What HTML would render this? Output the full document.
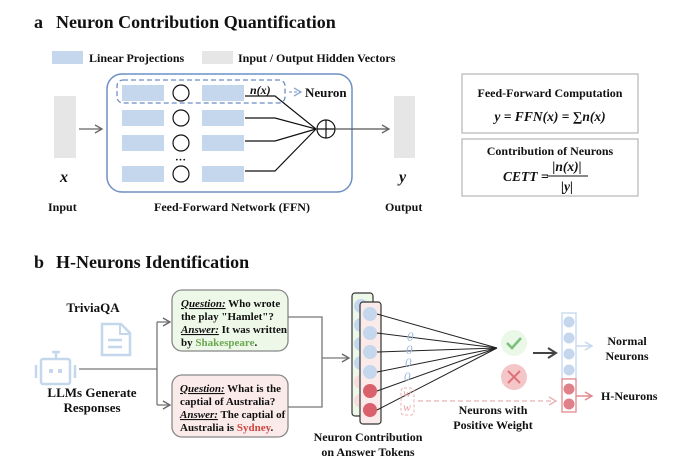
<!DOCTYPE html>
<html><head><meta charset="utf-8"><style>
html,body{margin:0;padding:0;background:#fff}
svg{display:block}
text{font-family:"Liberation Serif",serif;font-weight:bold;fill:#111}
.i{font-style:italic}
</style></head><body>
<svg width="684" height="465" viewBox="0 0 684 465" xmlns="http://www.w3.org/2000/svg">
<defs>
<marker id="ag" markerWidth="10" markerHeight="10" refX="8" refY="5" orient="auto" markerUnits="userSpaceOnUse"><path d="M1,1 L8,5 L1,9" fill="none" stroke="#666" stroke-width="1.3"/></marker>
<marker id="ak" markerWidth="12" markerHeight="12" refX="9" refY="6" orient="auto" markerUnits="userSpaceOnUse"><path d="M1,1 L9,6 L1,11" fill="none" stroke="#444" stroke-width="2"/></marker>
<marker id="ab" markerWidth="10" markerHeight="10" refX="8" refY="5" orient="auto" markerUnits="userSpaceOnUse"><path d="M1,1 L8,5 L1,9" fill="none" stroke="#8fa8d0" stroke-width="1.3"/></marker>
<marker id="al" markerWidth="10" markerHeight="10" refX="8" refY="5" orient="auto" markerUnits="userSpaceOnUse"><path d="M1,1 L8,5 L1,9" fill="none" stroke="#c8d8ec" stroke-width="1.5"/></marker>
<marker id="ar" markerWidth="10" markerHeight="10" refX="8" refY="5" orient="auto" markerUnits="userSpaceOnUse"><path d="M1,1 L8,5 L1,9" fill="none" stroke="#e08a8f" stroke-width="1.5"/></marker>
<marker id="ap" markerWidth="10" markerHeight="10" refX="8" refY="5" orient="auto" markerUnits="userSpaceOnUse"><path d="M1,1 L8,5 L1,9" fill="none" stroke="#eab0b4" stroke-width="1.3"/></marker>
</defs>

<!-- Part a -->
<text x="34" y="28" font-size="18">a</text>
<text x="56" y="28" font-size="18">Neuron Contribution Quantification</text>
<rect x="52" y="51" width="31" height="13" fill="#c4d7ec"/>
<text x="89" y="62" font-size="12">Linear Projections</text>
<rect x="202" y="51" width="31" height="13" fill="#e6e6e6"/>
<text x="238" y="62" font-size="12">Input / Output Hidden Vectors</text>

<rect x="54" y="96" width="22" height="62" fill="#e6e6e6"/>
<line x1="79" y1="129" x2="102" y2="129" stroke="#666" stroke-width="1.3" marker-end="url(#ag)"/>
<rect x="107" y="74" width="245" height="118" rx="15" fill="none" stroke="#6d8fc4" stroke-width="1.5"/>
<rect x="117" y="80" width="168" height="23" rx="6" fill="none" stroke="#6d8fc4" stroke-width="1.3" stroke-dasharray="5,3"/>
<line x1="289" y1="92" x2="301" y2="92" stroke="#8fa8d0" stroke-width="1.3" stroke-dasharray="3,2" marker-end="url(#ab)"/>
<text x="305" y="97" font-size="13">Neuron</text>
<g fill="#c4d7ec">
<rect x="122" y="85" width="42" height="16"/><rect x="202" y="85" width="42" height="16"/>
<rect x="122" y="110" width="42" height="16"/><rect x="202" y="110" width="42" height="16"/>
<rect x="122" y="135" width="42" height="16"/><rect x="202" y="135" width="42" height="16"/>
<rect x="122" y="166" width="42" height="16"/><rect x="202" y="166" width="42" height="16"/>
</g>
<g fill="#fff" stroke="#111" stroke-width="1.2">
<circle cx="181" cy="93" r="8"/><circle cx="181" cy="118" r="8"/><circle cx="181" cy="143" r="8"/><circle cx="181" cy="174" r="8"/>
</g>
<text x="175" y="163" font-size="11">···</text>
<text x="250" y="94" font-size="12" class="i">n(x)</text>
<g fill="none" stroke="#111" stroke-width="1.2">
<polyline points="245,96 275,96 316,129"/>
<polyline points="245,118 275,118 316,129"/>
<polyline points="245,141 275,141 316,129"/>
<polyline points="245,171 275,171 316,129"/>
<circle cx="326" cy="129" r="9" fill="#fff"/>
<line x1="317" y1="129" x2="335" y2="129"/><line x1="326" y1="120" x2="326" y2="138"/>
</g>
<line x1="335" y1="129" x2="389" y2="129" stroke="#555" stroke-width="1.2" marker-end="url(#ag)"/>
<rect x="394" y="96" width="21" height="62" fill="#e6e6e6"/>
<text x="60" y="182" font-size="16" class="i">x</text>
<text x="399" y="182" font-size="16" class="i">y</text>
<text x="48" y="211" font-size="12">Input</text>
<text x="232" y="211" font-size="12" text-anchor="middle">Feed-Forward Network (FFN)</text>
<text x="385" y="211" font-size="12">Output</text>

<rect x="462" y="74" width="176" height="59" fill="#fff" stroke="#bbb" stroke-width="1.3"/>
<text x="550" y="97" font-size="12" text-anchor="middle">Feed-Forward Computation</text>
<text x="550" y="121" font-size="13.5" text-anchor="middle" class="i">y = FFN(x) = ∑n(x)</text>
<rect x="462" y="139" width="176" height="57" fill="#fff" stroke="#bbb" stroke-width="1.3"/>
<text x="550" y="155" font-size="12" text-anchor="middle">Contribution of Neurons</text>
<text x="503" y="181" font-size="13.5" class="i">CETT =</text>
<text x="567" y="171" font-size="13.5" text-anchor="middle" class="i">|n(x)|</text>
<line x1="547" y1="176" x2="588" y2="176" stroke="#111" stroke-width="1"/>
<text x="567" y="191" font-size="13.5" text-anchor="middle" class="i">|y|</text>

<!-- Part b -->
<text x="34" y="268" font-size="18">b</text>
<text x="56" y="268" font-size="18">H-Neurons Identification</text>
<text x="93" y="312" font-size="13" text-anchor="middle">TriviaQA</text>
<path d="M102,324 L121,324 L130,333 L130,355 L102,355 Z" fill="none" stroke="#c4d7ec" stroke-width="2.5"/>
<path d="M120,324 L120,334 L130,334" fill="none" stroke="#c4d7ec" stroke-width="2"/>
<line x1="108" y1="340" x2="122" y2="340" stroke="#c4d7ec" stroke-width="2.5"/>
<line x1="108" y1="347" x2="122" y2="347" stroke="#c4d7ec" stroke-width="2.5"/>
<g fill="none" stroke="#c4d7ec" stroke-width="2.5">
<rect x="41" y="359" width="29" height="25" rx="2"/>
<line x1="56" y1="352" x2="56" y2="359"/><line x1="52" y1="352" x2="60" y2="352"/>
<line x1="36" y1="365" x2="36" y2="378"/><line x1="75" y1="365" x2="75" y2="378"/>
</g>
<rect x="49" y="369" width="4" height="4" fill="#c4d7ec"/><rect x="58" y="369" width="4" height="4" fill="#c4d7ec"/>
<text x="92" y="397" font-size="13" text-anchor="middle">LLMs Generate</text>
<text x="92" y="412" font-size="13" text-anchor="middle">Responses</text>
<g fill="none" stroke="#777" stroke-width="1.3">
<line x1="79" y1="369" x2="157" y2="369"/>
<polyline points="157,322 157,405"/>
</g>
<line x1="157" y1="322" x2="170" y2="322" stroke="#777" stroke-width="1.3" marker-end="url(#ag)"/>
<line x1="157" y1="405" x2="170" y2="405" stroke="#777" stroke-width="1.3" marker-end="url(#ag)"/>

<rect x="172" y="290" width="116" height="61" rx="10" fill="#eef8e9" stroke="#888" stroke-width="1.3"/>
<text x="181" y="307" font-size="11"><tspan class="i" text-decoration="underline">Question:</tspan> Who wrote</text>
<text x="181" y="320" font-size="11">the play "Hamlet"?</text>
<text x="181" y="333" font-size="11"><tspan class="i" text-decoration="underline">Answer:</tspan> It was written</text>
<text x="181" y="346" font-size="11">by <tspan fill="#6aa84f">Shakespeare</tspan>.</text>
<rect x="172" y="375" width="116" height="62" rx="10" fill="#fbeaea" stroke="#888" stroke-width="1.3"/>
<text x="180" y="392" font-size="11"><tspan class="i" text-decoration="underline">Question:</tspan> What is the</text>
<text x="180" y="405" font-size="11">captial of Australia?</text>
<text x="180" y="418" font-size="11"><tspan class="i" text-decoration="underline">Answer:</tspan> The captial of</text>
<text x="180" y="431" font-size="11">Australia is <tspan fill="#d0453f">Sydney</tspan>.</text>
<g fill="none" stroke="#777" stroke-width="1.3">
<polyline points="288,317 322,317 322,407 288,407"/>
</g>
<line x1="322" y1="358" x2="349" y2="358" stroke="#777" stroke-width="1.3" marker-end="url(#ag)"/>

<rect x="352" y="293" width="21" height="123" rx="3" fill="#eef8e9" stroke="#333" stroke-width="1.2"/>
<g fill="#c4d7ec"><circle cx="361" cy="306" r="7"/><circle cx="361" cy="325" r="7"/><circle cx="361" cy="344" r="7"/><circle cx="361" cy="363" r="7"/></g>
<g fill="#f6dcdc"><circle cx="361" cy="382" r="7"/><circle cx="361" cy="401" r="7"/></g>
<rect x="360" y="302" width="21" height="122" rx="3" fill="#fbeaea" stroke="#333" stroke-width="1.2"/>
<g fill="#c4d7ec"><circle cx="370" cy="314" r="7"/><circle cx="370" cy="333" r="7"/><circle cx="370" cy="352" r="7"/><circle cx="370" cy="372" r="7"/></g>
<g fill="#d9616c"><circle cx="370" cy="391" r="7"/><circle cx="370" cy="410" r="7"/></g>
<g stroke="#222" stroke-width="1">
<line x1="377" y1="314" x2="497" y2="348"/><line x1="377" y1="333" x2="497" y2="348"/>
<line x1="377" y1="352" x2="497" y2="348"/><line x1="377" y1="372" x2="497" y2="348"/>
<line x1="377" y1="391" x2="497" y2="348"/><line x1="377" y1="410" x2="497" y2="348"/>
</g>
<text x="407" y="341" font-size="13" class="i" style="fill:#9fbbe0;font-weight:normal">0</text>
<text x="406" y="354" font-size="13" class="i" style="fill:#9fbbe0;font-weight:normal">0</text>
<text x="405" y="367" font-size="13" class="i" style="fill:#9fbbe0;font-weight:normal">0</text>
<text x="404" y="381" font-size="13" class="i" style="fill:#9fbbe0;font-weight:normal">0</text>
<text x="403" y="397" font-size="12" class="i" style="fill:#e8a0a5;font-weight:normal">w</text>
<text x="403" y="411" font-size="12" class="i" style="fill:#e8a0a5;font-weight:normal">w</text>
<rect x="401" y="388" width="13" height="27" rx="3" fill="none" stroke="#eab0b4" stroke-dasharray="3,2"/>
<line x1="418" y1="401" x2="556" y2="401" stroke="#eab0b4" stroke-width="1.3" stroke-dasharray="5,3" marker-end="url(#ap)"/>
<circle cx="514" cy="343" r="13" fill="#ebf7e7"/>
<path d="M507,343 L512,348 L521,338" fill="none" stroke="#79c07a" stroke-width="2.5"/>
<circle cx="514" cy="377" r="13" fill="#f4c6c8"/>
<path d="M508,371 L520,383 M520,371 L508,383" stroke="#e07078" stroke-width="2"/>
<line x1="533" y1="353" x2="556" y2="353" stroke="#444" stroke-width="2" marker-end="url(#ak)"/>
<rect x="562" y="313" width="14" height="66" fill="#fff" stroke="#c4d7ec" stroke-width="1.3"/>
<g fill="#c4d7ec"><circle cx="569" cy="322" r="5.5"/><circle cx="569" cy="338" r="5.5"/><circle cx="569" cy="354" r="5.5"/><circle cx="569" cy="370" r="5.5"/></g>
<rect x="562" y="379" width="14" height="33" fill="#fff" stroke="#e08a8f" stroke-width="1.3"/>
<g fill="#e0818a"><circle cx="569" cy="389" r="5.5"/><circle cx="569" cy="404" r="5.5"/></g>
<line x1="576" y1="346" x2="592" y2="346" stroke="#c8d8ec" stroke-width="1.5" marker-end="url(#al)"/>
<line x1="576" y1="396" x2="592" y2="396" stroke="#e08a8f" stroke-width="1.5" marker-end="url(#ar)"/>
<text x="627" y="345" font-size="12" text-anchor="middle">Normal</text>
<text x="627" y="360" font-size="12" text-anchor="middle">Neurons</text>
<text x="601" y="400" font-size="12">H-Neurons</text>
<text x="493" y="414" font-size="12" text-anchor="middle">Neurons with</text>
<text x="493" y="429" font-size="12" text-anchor="middle">Positive Weight</text>
<text x="368" y="441" font-size="12" text-anchor="middle">Neuron Contribution</text>
<text x="368" y="456" font-size="12" text-anchor="middle">on Answer Tokens</text>
</svg>
</body></html>
